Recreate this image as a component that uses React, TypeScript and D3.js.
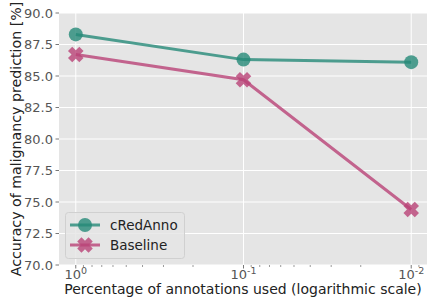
import React from "react";
import * as d3 from "d3";

const fractions = [1, 0.1, 0.01];
const cRedAnno = [88.3, 86.3, 86.1];
const baseline = [86.7, 84.7, 74.4];
const yTicks = [70, 72.5, 75, 77.5, 80, 82.5, 85, 87.5, 90];
const xTickExps = [0, -1, -2];
const seriesNames = ["cRedAnno", "Baseline"];

const W = 427, H = 299;
const M = { left: 59, right: 428, top: 13, bottom: 265 };
const TEAL = "#258978";
const PINK = "#b94277";
const FONT = "DejaVu Sans, sans-serif";

function xPath(cx: number, cy: number, r: number, t: number) {
  const pts: [number, number][] = [
    [t, t], [t, r], [-t, r], [-t, t], [-r, t], [-r, -t], [-t, -t], [-t, -r], [t, -r], [t, -t], [r, -t], [r, t],
  ];
  const c = Math.SQRT1_2;
  return "M" + pts.map(([x, y]) => [cx + (x - y) * c, cy + (x + y) * c].map((v) => v.toFixed(2)).join(",")).join("L") + "Z";
}

export default function App() {
  const x = d3.scaleLog().domain([Math.pow(10, 0.1), Math.pow(10, -2.1)]).range([M.left, M.right]);
  const y = d3.scaleLinear().domain([70, 90]).range([M.bottom, M.top]);
  const line = d3.line<number>().x((_, i) => x(fractions[i])).y((d) => y(d));
  const minor: number[] = [];
  for (let k = -3; k <= 0; k++) for (let m = 2; m <= 9; m++) {
    const v = m * Math.pow(10, k);
    if (v < Math.pow(10, 0.1) && v > Math.pow(10, -2.1)) minor.push(v);
  }
  const alpha = 0.8;
  const plotCx = (M.left + 427) / 2;
  return (
    <svg width={W} height={H} style={{ position: "absolute", left: 0, top: 0 }} fontFamily={FONT}>
      <rect x={0} y={0} width={W} height={H} fill="white" />
      <rect x={M.left} y={M.top} width={M.right - M.left} height={M.bottom - M.top} fill="#e5e5e5" />
      {yTicks.map((t) => (
        <line key={"gy" + t} x1={M.left} x2={M.right} y1={y(t)} y2={y(t)} stroke="white" strokeWidth={1} />
      ))}
      {xTickExps.map((e) => (
        <line key={"gx" + e} x1={x(Math.pow(10, e))} x2={x(Math.pow(10, e))} y1={M.top} y2={M.bottom} stroke="white" strokeWidth={1} />
      ))}
      {yTicks.map((t) => (
        <g key={"ty" + t}>
          <line x1={M.left - 3.5} x2={M.left} y1={y(t)} y2={y(t)} stroke="#555" strokeWidth={0.8} />
          <text x={M.left - 6} y={y(t)} dy="0.35em" textAnchor="end" fontSize={13} fill="#555">{t.toFixed(1)}</text>
        </g>
      ))}
      {xTickExps.map((e) => (
        <g key={"tx" + e}>
          <line x1={x(Math.pow(10, e))} x2={x(Math.pow(10, e))} y1={M.bottom} y2={M.bottom + 3.5} stroke="#555" strokeWidth={0.8} />
          <text x={x(Math.pow(10, e))} y={M.bottom + 14} textAnchor="middle" fontSize={13} fill="#555">
            10<tspan dy={-5} fontSize={9.5}>{e}</tspan>
          </text>
        </g>
      ))}
      {minor.map((v) => (
        <line key={"mx" + v} x1={x(v)} x2={x(v)} y1={M.bottom} y2={M.bottom + 2} stroke="#555" strokeWidth={0.6} />
      ))}
      <path d={line(cRedAnno) || ""} fill="none" stroke={TEAL} strokeWidth={3} strokeOpacity={alpha} />
      {cRedAnno.map((v, i) => (
        <circle key={"c" + i} cx={x(fractions[i])} cy={y(v)} r={7} fill={TEAL} fillOpacity={alpha} />
      ))}
      <path d={line(baseline) || ""} fill="none" stroke={PINK} strokeWidth={3} strokeOpacity={alpha} />
      {baseline.map((v, i) => (
        <path key={"b" + i} d={xPath(x(fractions[i]), y(v), 8, 3)} fill={PINK} fillOpacity={alpha} />
      ))}
      <g>
        <rect x={65.5} y={212.5} width={119} height={46} rx={3} fill="#e5e5e5" fillOpacity={0.8} stroke="#d0d0d0" strokeWidth={1} />
        {seriesNames.map((n, i) => {
          const cy = 225 + i * 20;
          const col = i === 0 ? TEAL : PINK;
          return (
            <g key={n}>
              <line x1={70} x2={100} y1={cy} y2={cy} stroke={col} strokeWidth={3} strokeOpacity={alpha} />
              {i === 0 ? (
                <circle cx={85} cy={cy} r={7} fill={col} fillOpacity={alpha} />
              ) : (
                <path d={xPath(85, cy, 8, 3)} fill={col} fillOpacity={alpha} />
              )}
              <text x={110} y={cy} dy="0.35em" fontSize={13.5} fill="#222">{n}</text>
            </g>
          );
        })}
      </g>
      <text x={plotCx} y={294} textAnchor="middle" fontSize={14} fill="#222">Percentage of annotations used (logarithmic scale)</text>
      <text transform={`translate(16,${(M.top + M.bottom) / 2}) rotate(-90)`} textAnchor="middle" dy="0.35em" fontSize={14.2} fill="#222">Accuracy of malignancy prediction [%]</text>
    </svg>
  );
}
